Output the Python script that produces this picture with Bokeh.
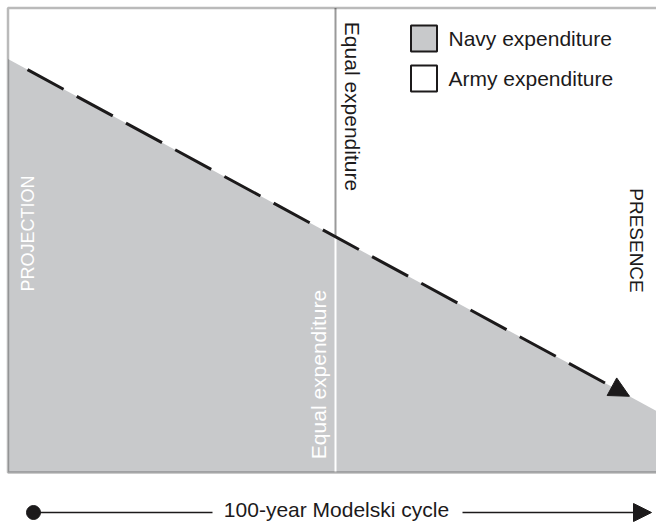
import numpy as np
from bokeh.plotting import figure
from bokeh.models import Range1d, Label, Arrow, NormalHead, BoxAnnotation
from bokeh.embed import file_html
from bokeh.resources import INLINE

# ---- data ----
cycle_years = [0, 100]            # position in the 100-year Modelski cycle
navy_share = [0.89, 0.125]        # navy share of expenditure (rest is army)
equal_year = 50                   # point of equal expenditure
legend_labels = ["Navy expenditure", "Army expenditure"]
phase_labels = ["PROJECTION", "PRESENCE"]
equal_label = "Equal expenditure"
axis_label = "100-year Modelski cycle"

# ---- layout ----
W, H = 656, 522
X0_PAGE, X100_PAGE = 7.5, 662.5   # page x of year 0 / year 100
Y0_PAGE, Y1_PAGE = 472.0, 7.5     # page y of share 0 / share 1
SX = (X100_PAGE - X0_PAGE) / 100.0
SY = (Y0_PAGE - Y1_PAGE) / 1.0
XS = -X0_PAGE / SX
XE = XS + W / SX
YE = Y0_PAGE / SY
YS = YE - H / SY

def px(page_x):
    return XS + page_x / SX

def py(page_y):
    return YE - page_y / SY

GRAY = "#c8c9cb"
INK = "#1c1a1b"
FONT = "Liberation Sans"

p = figure(width=W, height=H, output_backend="svg", toolbar_location=None,
           x_range=Range1d(XS, XE), y_range=Range1d(YS, YE),
           min_border=0, min_border_left=0, min_border_right=0,
           min_border_top=0, min_border_bottom=0)
p.axis.visible = False
p.grid.visible = False
p.outline_line_color = None
p.background_fill_color = "white"
p.border_fill_color = "white"

# navy area
p.varea(x=cycle_years, y1=[0, 0], y2=navy_share, fill_color=GRAY)

# equal expenditure line
eq_share = float(np.interp(equal_year, cycle_years, navy_share))
p.segment(x0=[equal_year], y0=[eq_share], x1=[equal_year], y1=[1],
          line_color="#9a9a9a", line_width=2)
p.segment(x0=[equal_year], y0=[0], x1=[equal_year], y1=[eq_share],
          line_color="white", line_width=2)

# dashed arrow along the boundary
xa0, xa1 = px(27), px(629)
ya0 = float(np.interp(xa0, cycle_years, navy_share))
ya1 = float(np.interp(xa1, cycle_years, navy_share))
p.add_layout(Arrow(x_start=xa0, y_start=ya0, x_end=xa1, y_end=ya1,
                   line_color=INK, line_width=3, line_dash="41 15",
                   end=NormalHead(size=20, fill_color=INK, line_color=INK, line_width=1)))

# frame (top, left, bottom)
p.add_layout(BoxAnnotation(left=0, right=110, bottom=0, top=1,
                           fill_alpha=0, line_color=INK, line_width=2.5))

# labels
def lab(text, x, y, size, color, angle=0.0, align="center", baseline="middle"):
    p.add_layout(Label(x=px(x), y=py(y), text=text, text_font=FONT,
                       text_font_size=f"{size}px", text_color=color,
                       angle=angle, text_align=align, text_baseline=baseline))

lab(equal_label, 352, 106, 21, INK, angle=-np.pi / 2)
lab(equal_label, 318, 374, 21, "white", angle=np.pi / 2)
lab(phase_labels[0], 27, 233, 18, "white", angle=np.pi / 2)
lab(phase_labels[1], 636, 240, 19, INK, angle=-np.pi / 2)

# legend
p.scatter(x=[px(423.5), px(423.5)], y=[py(38), py(78)], marker="square", size=26,
          fill_color=[GRAY, "white"], line_color=INK, line_width=2)
lab(legend_labels[0], 448, 38, 21, INK, align="left")
lab(legend_labels[1], 448, 78, 21, INK, align="left")

# bottom cycle arrow
yb = py(512)
p.scatter(x=[px(33)], y=[yb], marker="circle", size=14, fill_color=INK, line_color=INK)
p.segment(x0=[px(33)], y0=[yb], x1=[px(212)], y1=[yb], line_color=INK, line_width=1.6)
lab(axis_label, 336, 509, 21, INK)
p.add_layout(Arrow(x_start=px(462), y_start=yb, x_end=px(651), y_end=yb,
                   line_color=INK, line_width=1.6,
                   end=NormalHead(size=18, fill_color=INK, line_color=INK, line_width=1)))

open("out.html", "w").write(file_html(p, INLINE))
